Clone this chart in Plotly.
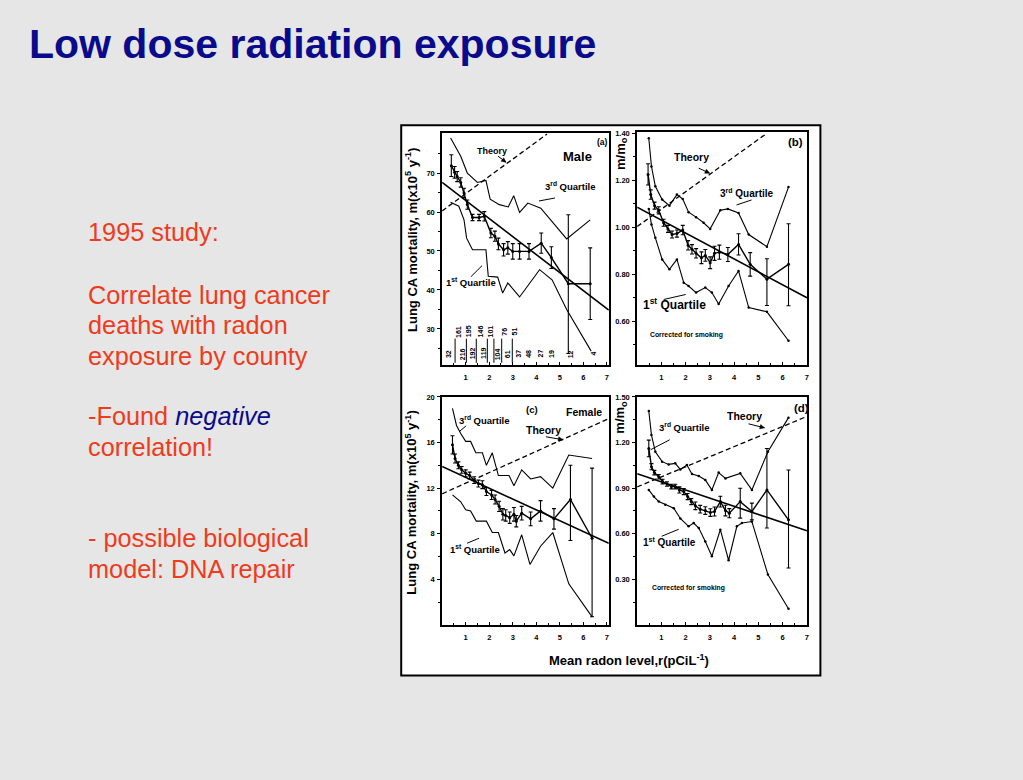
import math
import plotly.graph_objects as go

W, H = 1023, 780
FONT = "Liberation Sans, Arial, sans-serif"

# ---------------- data ----------------
# Panel (a) Male: lung cancer mortality m (x10^5 y^-1) vs mean radon level r (pCi/L)
a_mean_r = [0.39, 0.53, 0.64, 0.79, 0.93, 1.07, 1.29, 1.57, 1.79, 2.07, 2.24, 2.39, 2.61, 2.79, 3.0, 3.29, 3.69, 4.21, 4.64, 5.36, 6.29]
a_mean_m = [71.9, 70.2, 69.1, 67.6, 64.9, 61.9, 58.6, 58.6, 58.9, 54.6, 53.8, 51.8, 50.3, 50.8, 49.9, 49.9, 49.9, 52.0, 48.3, 41.6, 41.6]
a_err_up = [2.8, 1.5, 1.3, 1.2, 1.2, 1.2, 0.8, 0.8, 1.2, 1.2, 1.3, 1.5, 1.6, 1.6, 2.0, 2.0, 2.0, 2.6, 2.8, 17.7, 9.2]
a_err_dn = [2.8, 1.5, 1.3, 1.2, 1.2, 1.2, 0.8, 0.8, 1.2, 1.2, 1.3, 1.5, 1.6, 1.6, 2.0, 2.0, 2.0, 2.6, 2.8, 17.9, 9.2]
a_q3_r = [0.36, 0.79, 1.07, 1.5, 1.86, 2.04, 2.43, 2.81, 3.04, 3.29, 3.64, 4.19, 5.29, 6.29]
a_q3_m = [79.0, 74.3, 70.0, 67.6, 68.1, 63.3, 61.9, 61.3, 64.2, 59.9, 62.3, 61.0, 53.1, 58.0]
a_q1_r = [0.36, 0.71, 0.93, 1.04, 1.29, 1.86, 1.96, 2.36, 2.57, 2.79, 3.29, 4.14, 4.67, 5.29, 6.33]
a_q1_m = [62.5, 61.5, 58.0, 53.3, 50.3, 50.3, 43.5, 43.3, 39.2, 41.8, 38.2, 45.2, 42.6, 35.0, 24.3]
a_fit_r = [0.0, 7.08]
a_fit_m = [67.6, 34.8]
a_theory_r = [0.0, 4.45]
a_theory_m = [60.3, 80.0]
a_count_r = [0.30, 0.69, 0.86, 1.12, 1.29, 1.64, 1.78, 2.07, 2.35, 2.67, 2.81, 3.09, 3.26, 3.69, 4.18, 4.67, 5.45, 6.44]
a_counts = ["32", "161", "216", "195", "192", "146", "119", "101", "104", "76", "61", "51", "37", "48", "27", "19", "12", "4"]
a_count_row = [0, 1, 0, 1, 0, 1, 0, 1, 0, 1, 0, 1, 0, 0, 0, 0, 0, 0]
a_bin_edges = [0.55, 1.03, 1.45, 1.92, 2.2, 2.53, 2.98]

# Panel (b) Male, m/m0 corrected for smoking
b_mean_r = [0.45, 0.56, 0.72, 0.89, 1.09, 1.27, 1.44, 1.64, 1.88, 2.1, 2.26, 2.43, 2.65, 2.81, 3.01, 3.19, 3.39, 3.74, 4.18, 4.66, 5.35, 6.24]
b_mean_v = [1.225, 1.139, 1.092, 1.072, 1.019, 0.993, 0.969, 0.973, 0.988, 0.923, 0.906, 0.889, 0.870, 0.880, 0.849, 0.889, 0.894, 0.884, 0.927, 0.842, 0.779, 0.842]
b_err_up = [0.045, 0.02, 0.015, 0.015, 0.015, 0.015, 0.015, 0.015, 0.02, 0.02, 0.02, 0.02, 0.025, 0.025, 0.025, 0.03, 0.03, 0.03, 0.045, 0.05, 0.087, 0.173]
b_err_dn = [0.045, 0.02, 0.015, 0.015, 0.015, 0.015, 0.015, 0.015, 0.02, 0.02, 0.02, 0.02, 0.025, 0.025, 0.025, 0.03, 0.03, 0.03, 0.045, 0.05, 0.112, 0.176]
b_q3_r = [0.48, 0.59, 0.75, 1.03, 1.33, 1.64, 1.88, 2.12, 2.43, 2.74, 3.01, 3.43, 3.74, 4.18, 4.6, 5.35, 6.24]
b_q3_v = [1.379, 1.259, 1.174, 1.118, 1.092, 1.139, 1.12, 1.064, 1.043, 1.019, 0.993, 1.072, 1.078, 1.061, 0.969, 0.917, 1.171]
b_q1_r = [0.48, 0.59, 0.75, 1.03, 1.33, 1.64, 1.92, 2.12, 2.43, 2.81, 3.08, 3.36, 3.77, 4.18, 4.6, 5.35, 6.24]
b_q1_v = [1.078, 1.012, 0.955, 0.863, 0.821, 0.863, 0.764, 0.750, 0.722, 0.743, 0.722, 0.673, 0.750, 0.814, 0.658, 0.640, 0.517]
b_fit_r = [0.0, 7.0]
b_fit_v = [1.085, 0.70]
b_theory_r = [0.0, 5.35]
b_theory_v = [1.003, 1.40]

# Panel (c) Female, lung cancer mortality m (x10^5 y^-1)
c_mean_r = [0.44, 0.55, 0.69, 0.83, 1.0, 1.17, 1.36, 1.54, 1.71, 1.88, 2.1, 2.25, 2.42, 2.58, 2.7, 2.87, 3.05, 3.15, 3.38, 3.76, 4.18, 4.75, 5.45, 6.37]
c_mean_m = [15.8, 14.6, 14.0, 13.6, 13.3, 13.1, 12.7, 12.4, 12.3, 11.7, 11.4, 11.0, 10.4, 9.7, 9.6, 9.4, 9.7, 9.1, 9.8, 9.3, 10.0, 9.3, 11.0, 7.6]
c_err_up = [0.8, 0.4, 0.3, 0.3, 0.3, 0.3, 0.3, 0.3, 0.35, 0.35, 0.4, 0.4, 0.45, 0.5, 0.5, 0.5, 0.6, 0.5, 0.6, 0.6, 0.9, 0.9, 3.0, 6.15]
c_err_dn = [0.8, 0.4, 0.3, 0.3, 0.3, 0.3, 0.3, 0.3, 0.35, 0.35, 0.4, 0.4, 0.45, 0.5, 0.5, 0.5, 0.6, 0.5, 0.6, 0.6, 0.9, 0.9, 3.6, 6.9]
c_q3_r = [0.44, 0.61, 0.79, 1.0, 1.21, 1.43, 1.71, 1.88, 2.13, 2.39, 2.84, 3.05, 3.38, 3.76, 4.18, 4.7, 5.38, 6.37]
c_q3_m = [19.0, 17.5, 16.8, 16.1, 16.1, 15.1, 15.1, 14.0, 15.1, 13.1, 13.1, 12.2, 13.6, 12.8, 13.0, 12.0, 14.9, 14.6]
c_q1_r = [0.44, 0.79, 1.0, 1.21, 1.45, 1.88, 2.13, 2.39, 2.67, 2.87, 3.05, 3.38, 3.73, 4.18, 4.7, 5.38, 6.37]
c_q1_m = [11.4, 10.8, 10.1, 10.0, 9.1, 9.1, 8.1, 8.1, 6.3, 6.6, 6.05, 7.9, 5.3, 6.9, 8.1, 3.6, 0.7]
c_fit_r = [0.0, 7.08]
c_fit_m = [13.9, 7.15]
c_theory_r = [0.0, 7.08]
c_theory_m = [11.5, 18.1]

# Panel (d) Female, m/m0 corrected for smoking
d_mean_r = [0.48, 0.59, 0.71, 0.89, 1.05, 1.23, 1.41, 1.57, 1.74, 1.92, 2.08, 2.23, 2.4, 2.6, 2.81, 3.02, 3.19, 3.43, 3.64, 3.8, 4.25, 4.73, 5.35, 6.24]
d_mean_v = [1.161, 1.041, 1.002, 0.975, 0.943, 0.927, 0.910, 0.910, 0.888, 0.877, 0.844, 0.811, 0.783, 0.761, 0.752, 0.739, 0.746, 0.811, 0.752, 0.735, 0.811, 0.746, 0.888, 0.691]
d_err_up = [0.055, 0.02, 0.015, 0.015, 0.015, 0.015, 0.015, 0.015, 0.02, 0.02, 0.02, 0.02, 0.025, 0.025, 0.025, 0.025, 0.03, 0.035, 0.035, 0.03, 0.088, 0.055, 0.273, 0.328]
d_err_dn = [0.055, 0.02, 0.015, 0.015, 0.015, 0.015, 0.015, 0.015, 0.02, 0.02, 0.02, 0.02, 0.025, 0.025, 0.025, 0.025, 0.03, 0.035, 0.035, 0.03, 0.109, 0.055, 0.251, 0.317]
d_q3_r = [0.48, 0.59, 0.75, 1.03, 1.3, 1.57, 1.78, 2.05, 2.26, 2.54, 2.81, 3.08, 3.36, 3.64, 4.25, 4.73, 5.39, 6.24]
d_q3_v = [1.408, 1.249, 1.139, 1.074, 1.056, 1.063, 1.023, 1.052, 0.993, 0.980, 0.954, 0.888, 1.002, 0.964, 0.997, 0.888, 1.139, 1.364]
d_q1_r = [0.48, 0.69, 0.89, 1.16, 1.51, 1.78, 2.12, 2.33, 2.54, 2.81, 3.08, 3.43, 3.77, 4.11, 4.32, 4.73, 5.39, 6.24]
d_q1_v = [0.888, 0.844, 0.811, 0.790, 0.768, 0.700, 0.648, 0.670, 0.637, 0.549, 0.451, 0.626, 0.425, 0.648, 0.670, 0.680, 0.331, 0.106]
d_fit_r = [0.0, 7.0]
d_fit_v = [0.995, 0.619]
d_theory_r = [0.0, 7.0]
d_theory_v = [0.908, 1.372]

x_ticks = [1, 2, 3, 4, 5, 6, 7]
x_minor = [0.5, 1.5, 2.5, 3.5, 4.5, 5.5, 6.5]

# ---------------- figure ----------------
fig = go.Figure()
BLK = "black"


def add_panel(xa, ya, mr, mv, eu, ed, q3r, q3v, q1r, q1v, fr, fv, tr, tv, qmark):
    qmode = "lines+markers" if qmark else "lines"
    for qr, qv in ((q3r, q3v), (q1r, q1v)):
        fig.add_trace(go.Scatter(x=qr, y=qv, mode=qmode, xaxis=xa, yaxis=ya,
                                 line=dict(color=BLK, width=1.1),
                                 marker=dict(color=BLK, size=2.5), hoverinfo="skip"))
    fig.add_trace(go.Scatter(x=tr, y=tv, mode="lines", xaxis=xa, yaxis=ya,
                             line=dict(color=BLK, width=1.3, dash="5px,3px"), hoverinfo="skip"))
    fig.add_trace(go.Scatter(x=fr, y=fv, mode="lines", xaxis=xa, yaxis=ya,
                             line=dict(color=BLK, width=1.6), hoverinfo="skip"))
    fig.add_trace(go.Scatter(x=mr, y=mv, mode="lines+markers", xaxis=xa, yaxis=ya,
                             line=dict(color=BLK, width=1.4),
                             marker=dict(color=BLK, size=3),
                             error_y=dict(type="data", symmetric=False, array=eu, arrayminus=ed,
                                          color=BLK, thickness=1.1, width=2)))


add_panel("x", "y", a_mean_r, a_mean_m, a_err_up, a_err_dn, a_q3_r, a_q3_m, a_q1_r, a_q1_m,
          a_fit_r, a_fit_m, a_theory_r, a_theory_m, False)
add_panel("x2", "y2", b_mean_r, b_mean_v, b_err_up, b_err_dn, b_q3_r, b_q3_v, b_q1_r, b_q1_v,
          b_fit_r, b_fit_v, b_theory_r, b_theory_v, True)
add_panel("x3", "y3", c_mean_r, c_mean_m, c_err_up, c_err_dn, c_q3_r, c_q3_m, c_q1_r, c_q1_m,
          c_fit_r, c_fit_m, c_theory_r, c_theory_m, False)
add_panel("x4", "y4", d_mean_r, d_mean_v, d_err_up, d_err_dn, d_q3_r, d_q3_v, d_q1_r, d_q1_v,
          d_fit_r, d_fit_v, d_theory_r, d_theory_v, True)

# bin separators in panel (a)
sep_x, sep_y = [], []
for e in a_bin_edges:
    sep_x += [e, e, None]
    sep_y += [21.3, 27.5, None]
fig.add_trace(go.Scatter(x=sep_x, y=sep_y, mode="lines", xaxis="x", yaxis="y",
                         line=dict(color=BLK, width=1), hoverinfo="skip"))

# ---------------- axes ----------------
tickfont = dict(family=FONT, size=7.5, color=BLK, weight="bold")


def xaxis(px0, px1, rng, anchor):
    return dict(domain=[px0 / W, px1 / W], range=rng, anchor=anchor,
                tickmode="array", tickvals=x_ticks, ticks="inside", ticklen=3,
                tickcolor=BLK, tickfont=tickfont, ticklabelstandoff=4,
                minor=dict(tickmode="array", tickvals=x_minor, ticks="inside", ticklen=2, tickcolor=BLK),
                showline=True, mirror=True, linecolor=BLK, linewidth=1.8,
                showgrid=False, zeroline=False, fixedrange=True)


def yaxis(py0, py1, rng, anchor, tv, fmt, minor_tv):
    return dict(domain=[1 - py1 / H, 1 - py0 / H], range=rng, anchor=anchor,
                tickmode="array", tickvals=tv, tickformat=fmt, ticks="outside", ticklen=3,
                tickcolor=BLK, tickfont=tickfont, ticklabelstandoff=1,
                minor=dict(tickmode="array", tickvals=minor_tv, ticks="outside", ticklen=2, tickcolor=BLK),
                showline=True, mirror=True, linecolor=BLK, linewidth=1.8,
                showgrid=False, zeroline=False, fixedrange=True)


fig.update_layout(
    xaxis=xaxis(443, 610, [0, 7.08], "y"),
    yaxis=yaxis(130, 363, [20.7, 80.2], "x", [30, 40, 50, 60, 70], "d", [25, 35, 45, 55, 65, 75]),
    xaxis2=xaxis(638.4, 809, [0, 7.02], "y2"),
    yaxis2=yaxis(129, 363, [0.413, 1.404], "x2", [0.6, 0.8, 1.0, 1.2, 1.4], ".2f", [0.5, 0.7, 0.9, 1.1, 1.3]),
    xaxis3=xaxis(443, 610, [0, 7.08], "y3"),
    yaxis3=yaxis(395, 624, [0, 20], "x3", [4, 8, 12, 16, 20], "d", [2, 6, 10, 14, 18]),
    xaxis4=xaxis(638.4, 809, [0, 7.02], "y4"),
    yaxis4=yaxis(395, 624, [0, 1.5], "x4", [0.3, 0.6, 0.9, 1.2, 1.5], ".2f", [0.15, 0.45, 0.75, 1.05, 1.35]),
)

# ---------------- annotations & leader lines ----------------
ann = []
shapes = [dict(type="rect", xref="paper", yref="paper", layer="below",
               x0=402 / W, x1=822 / W, y0=1 - 675 / H, y1=1 - 122 / H,
               fillcolor="white", line=dict(color=BLK, width=2))]


def txt(x, y, s, size, color=BLK, bold=True, xanchor="center", family=FONT, angle=0):
    ann.append(dict(xref="paper", yref="paper", x=x / W, y=1 - y / H, text=s, showarrow=False,
                    font=dict(family=family, size=size, color=color, weight="bold" if bold else "normal"),
                    xanchor=xanchor, yanchor="middle", textangle=angle))


def leader(x0, y0, x1, y1, head=False):
    # tail (x0, y0) -> tip (x1, y1) in page pixels
    shapes.append(dict(type="line", xref="paper", yref="paper",
                       x0=x0 / W, y0=1 - y0 / H, x1=x1 / W, y1=1 - y1 / H,
                       line=dict(color=BLK, width=1)))
    if head:
        L = math.hypot(x1 - x0, y1 - y0)
        ux, uy = (x1 - x0) / L, (y1 - y0) / L
        bx, by = x1 - 4.5 * ux, y1 - 4.5 * uy
        px, py = -uy * 2.2, ux * 2.2
        pts = [(x1, y1), (bx + px, by + py), (bx - px, by - py)]
        path = "M " + " L ".join("%.5f,%.5f" % (a / W, 1 - b / H) for a, b in pts) + " Z"
        shapes.append(dict(type="path", xref="paper", yref="paper", path=path,
                           fillcolor=BLK, line=dict(color=BLK, width=0.5)))


# slide title and text
NAVY = "#0a0a8c"
RED = "#ef3b1c"
txt(27, 40, "Low dose radiation exposure", 41, color=NAVY, xanchor="left",
    family="Liberation Sans Narrow, Arial Narrow, Liberation Sans, Arial, sans-serif")
body = [("1995 study:", 229), ("Correlate lung cancer", 292), ("deaths with radon", 323),
        ("exposure by county", 354),
        ("-Found <i><span style='color:%s'>negative</span></i>" % NAVY, 414),
        ("correlation!", 445), ("- possible biological", 537), ("model: DNA repair", 568)]
for s, y in body:
    txt(86, y, s, 25.3, color=RED, bold=False, xanchor="left")

# axis titles
txt(412, 237, "Lung CA mortality, m(x10<sup>5</sup> y<sup>-1</sup>)", 13, angle=-90)
txt(412, 501, "Lung CA mortality, m(x10<sup>5</sup> y<sup>-1</sup>)", 13, angle=-90)
txt(622, 150, "m/m<sub>o</sub>", 13, angle=-90)
txt(622, 415, "m/m<sub>o</sub>", 13, angle=-90)
txt(630, 659, "Mean radon level,r(pCiL<sup>-1</sup>)", 13)

# panel (a)
txt(493, 148, "Theory", 9)
txt(604, 139, "(a)", 8.5)
txt(579, 153, "Male", 13)
txt(572, 183, "3<sup>rd</sup> Quartile", 9.5)
txt(472, 279, "1<sup>st</sup> Quartile", 9.5)
leader(499, 153, 507, 159, True)
leader(556, 195, 540, 198)
leader(472, 274, 483, 263)
# panel (b)
txt(693, 154, "Theory", 10.5)
txt(797, 139, "(b)", 11.5)
txt(748, 190, "3<sup>rd</sup> Quartile", 10)
txt(676, 302, "1<sup>st</sup> Quartile", 12)
txt(688, 333, "Corrected for smoking", 6.8)
leader(700, 165, 711, 170, True)
leader(753, 197, 738, 202)
leader(665, 297, 687, 292)
# panel (c)
txt(533, 408, "(c)", 9.5)
txt(585, 410, "Female", 10.5)
txt(485, 418, "3<sup>rd</sup> Quartile", 9.5)
txt(545, 428, "Theory", 10.5)
txt(476, 548, "1<sup>st</sup> Quartile", 9.5)
leader(467, 424, 460, 430)
leader(547, 435, 564, 438, True)
leader(468, 542, 480, 537)
# panel (d)
txt(803, 406, "(d)", 11.5)
txt(746, 414, "Theory", 10.5)
txt(686, 425, "3<sup>rd</sup> Quartile", 9.5)
txt(671, 541, "1<sup>st</sup> Quartile", 10)
txt(690, 587, "Corrected for smoking", 6.8)
leader(750, 422, 766, 426, True)
leader(671, 438, 652, 448)
leader(663, 535, 680, 528)

# counts of counties per bin in panel (a)
for r, c, row in zip(a_count_r, a_counts, a_count_row):
    ann.append(dict(xref="x", yref="y", x=r, y=29.3 if row else 23.6, text=c, showarrow=False,
                    textangle=-90, font=dict(family=FONT, size=7, color=BLK, weight="bold"),
                    xanchor="center", yanchor="middle"))

fig.update_layout(
    width=W, height=H, margin=dict(l=0, r=0, t=0, b=0),
    paper_bgcolor="#e6e6e6", plot_bgcolor="white", showlegend=False,
    annotations=ann, shapes=shapes,
)

fig.write_html("out.html", config={"displayModeBar": False},
               post_script="document.body.style.margin='0';document.body.style.overflow='hidden';")
